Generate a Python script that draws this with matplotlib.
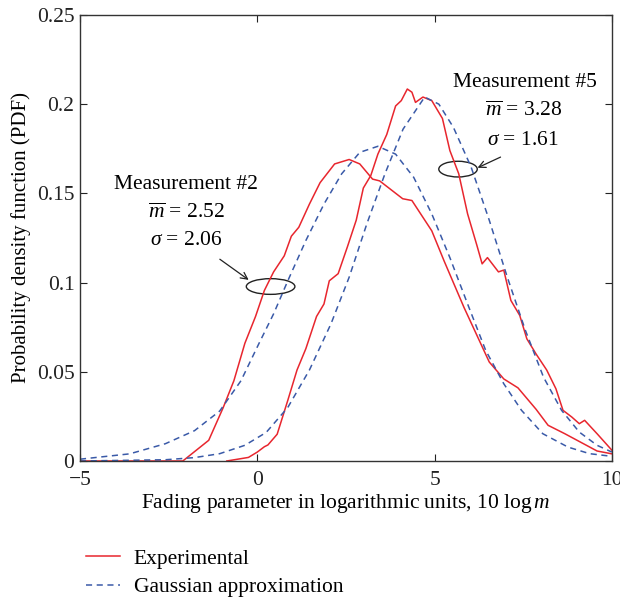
import numpy as np
import matplotlib
matplotlib.use("Agg")
import matplotlib.pyplot as plt
from matplotlib.patches import Ellipse

plt.rcParams.update({
    "font.family": "Liberation Serif",
    "mathtext.fontset": "custom",
    "mathtext.rm": "Liberation Serif",
    "mathtext.it": "Liberation Serif:italic",
    "font.size": 12,
})

# measurement #2, experimental pdf
exp2_x = [-5.0, -2.1, -1.37, -0.96, -0.66, -0.35, -0.05, 0.2, 0.46, 0.76, 0.96, 1.17,
          1.47, 1.77, 2.18, 2.59, 2.89, 3.25, 3.45, 4.1, 4.36, 4.92, 5.27, 5.83,
          6.54, 6.95, 7.35, 7.86, 8.2, 8.67, 9.28, 9.58, 10.0]
exp2_y = [0.0, 0.0, 0.0116, 0.030, 0.045, 0.066, 0.081, 0.0956, 0.106, 0.115, 0.126, 0.131,
          0.144, 0.156, 0.1665, 0.169, 0.1665, 0.158, 0.157, 0.147, 0.146, 0.129, 0.112, 0.086,
          0.0555, 0.046, 0.041, 0.029, 0.020, 0.0153, 0.0088, 0.0056, 0.004]

# measurement #5, experimental pdf
exp5_x = [-0.86, -0.25, 0.0, 0.2, 0.3, 0.56, 0.86, 1.12, 1.37, 1.67, 1.88, 2.03, 2.28,
          2.54, 2.79, 2.99, 3.2, 3.4, 3.65, 3.9, 4.06, 4.23, 4.36, 4.46, 4.67, 4.92,
          5.22, 5.43, 5.68, 5.93, 6.19, 6.34, 6.49, 6.8, 6.95, 7.15, 7.4, 7.6, 7.86,
          8.16, 8.42, 8.62, 8.87, 9.08, 9.23, 9.58, 10.0]
exp5_y = [0.0, 0.002, 0.005, 0.008, 0.009, 0.015, 0.034, 0.051, 0.063, 0.081, 0.088, 0.101, 0.105,
          0.12, 0.135, 0.153, 0.16, 0.172, 0.183, 0.199, 0.202, 0.2085, 0.2067, 0.201, 0.204, 0.202,
          0.192, 0.174, 0.161, 0.1385, 0.121, 0.1105, 0.114, 0.106, 0.107, 0.090, 0.0816, 0.0685, 0.060,
          0.051, 0.0405, 0.0284, 0.0246, 0.0209, 0.0228, 0.0153, 0.006]

# gaussian approximations
gau2_x = [-5.0, -3.6, -2.59, -1.77, -1.06, -0.46, 0.05, 0.46, 0.86, 1.37, 1.88, 2.38, 2.89,
          3.4, 3.9, 4.41, 4.92, 5.43, 5.93, 6.44, 6.95, 7.45, 8.05, 8.76, 9.37, 10.0]
gau2_y = [0.001, 0.004, 0.0097, 0.017, 0.028, 0.045, 0.066, 0.0825, 0.101, 0.1236, 0.144, 0.161, 0.173,
          0.1764, 0.172, 0.159, 0.1385, 0.114, 0.088, 0.062, 0.0433, 0.0284, 0.0153, 0.0078, 0.0041, 0.0026]

gau5_x = [-5.0, -2.59, -1.77, -1.06, -0.35, 0.25, 0.86, 1.47, 2.08, 2.59, 3.09, 3.6, 4.11,
          4.72, 5.12, 5.53, 6.03, 6.54, 7.05, 7.56, 8.07, 8.58, 9.08, 9.58, 10.0]
gau5_y = [0.0, 0.0007, 0.0019, 0.0041, 0.0088, 0.016, 0.030, 0.051, 0.077, 0.103, 0.133, 0.161, 0.186,
          0.204, 0.200, 0.187, 0.1647, 0.135, 0.103, 0.0732, 0.047, 0.0284, 0.0162, 0.0088, 0.005]

red = "#e8262e"
blue = "#3a5aa8"

fig = plt.figure(figsize=(6.2, 5.99), dpi=100)
ax = fig.add_axes([0.129, 0.2304, 0.858, 0.7446])

ax.plot(exp2_x, exp2_y, color=red, lw=1.1, label="Experimental")
ax.plot(exp5_x, exp5_y, color=red, lw=1.1)
ax.plot(gau2_x, gau2_y, color=blue, lw=1.1, ls=(0, (4, 3)), label="Gaussian approximation")
ax.plot(gau5_x, gau5_y, color=blue, lw=1.1, ls=(0, (4, 3)))

ax.set_xlim(-5, 10)
ax.set_ylim(0, 0.25)
ax.set_xticks([-5, 0, 5, 10])
ax.set_xticklabels(["\u22125", "0", "5", "10"])
ax.set_yticks([0, 0.05, 0.1, 0.15, 0.2, 0.25])
ax.set_yticklabels(["0", "0.05", "0.1", "0.15", "0.2", "0.25"])
ax.tick_params(direction="in", top=True, right=True, length=5, labelsize=15.5, colors="#222222")
ax.tick_params(axis="x", pad=7)
ax.tick_params(axis="y", pad=4)
for s in ax.spines.values():
    s.set_color("#333333")
    s.set_linewidth(1.0)

ax.set_xlabel(r"Fading parameter in logarithmic units, 10 log$\,m$", fontsize=15.5, labelpad=2)
ax.set_ylabel("Probability density function (PDF)", fontsize=15, labelpad=4)

# annotations
fs = 15.5
ax.text(-2.0, 0.155, "Measurement #2", ha="center", va="center", fontsize=fs)
ax.text(-2.0, 0.139, r"$\overline{m}$ = 2.52", ha="center", va="center", fontsize=fs)
ax.text(-2.0, 0.1236, r"$\sigma$ = 2.06", ha="center", va="center", fontsize=fs)
ax.text(7.56, 0.212, "Measurement #5", ha="center", va="center", fontsize=fs)
ax.text(7.5, 0.196, r"$\overline{m}$ = 3.28", ha="center", va="center", fontsize=fs)
ax.text(7.5, 0.1796, r"$\sigma$ = 1.61", ha="center", va="center", fontsize=fs)

ax.add_patch(Ellipse((0.375, 0.0978), 1.37, 0.0088, fill=False, ec="#222222", lw=1.0))
ax.add_patch(Ellipse((5.66, 0.1636), 1.085, 0.0088, fill=False, ec="#222222", lw=1.0))
ax.annotate("", xy=(-0.18, 0.1006), xytext=(-1.12, 0.114),
            arrowprops=dict(arrowstyle="->", color="#222222", lw=0.9))
ax.annotate("", xy=(6.14, 0.1637), xytext=(6.93, 0.171),
            arrowprops=dict(arrowstyle="->", color="#222222", lw=0.9))

fig.legend(loc="upper left", bbox_to_anchor=(0.122, 0.102), frameon=False, fontsize=15.5,
           handlelength=1.55, handletextpad=0.65, labelspacing=0.4, borderpad=0)

fig.savefig("out.png", dpi=100)
